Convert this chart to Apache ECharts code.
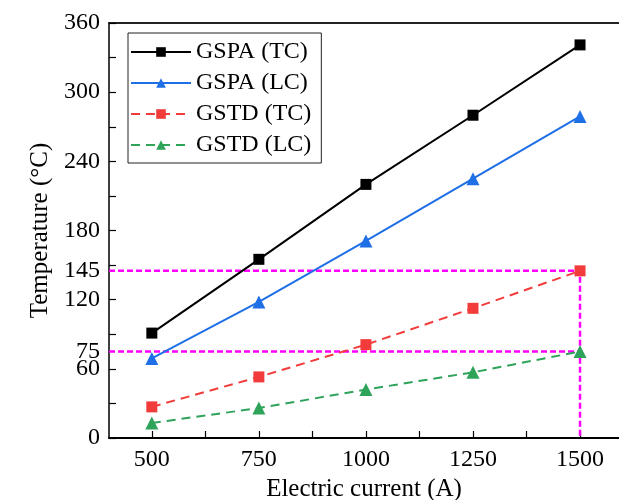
<!DOCTYPE html>
<html>
<head>
<meta charset="utf-8">
<script src="https://cdn.jsdelivr.net/npm/echarts@6/dist/echarts.min.js"></script>
<style>
html, body { margin: 0; padding: 0; background: #fff; }
#main { width: 619px; height: 500px; }
</style>
</head>
<body>
<div id="main"></div>
<script>
var currents = [500, 750, 1000, 1250, 1500];
var gspa_tc = [91, 155, 220, 280, 341];
var gspa_lc = [69, 118, 171, 225, 279];
var gstd_tc = [27, 53, 81, 112.5, 145];
var gstd_lc = [13, 26, 42, 57, 75];

var x_labels = [500, 750, 1000, 1250, 1500];
var x_ticks = [500, 625, 750, 875, 1000, 1125, 1250, 1375, 1500];
var y_labels = [0, 60, 75, 120, 145, 180, 240, 300, 360];
var y_ticks = [0, 30, 60, 90, 120, 150, 180, 210, 240, 270, 300, 330, 360];

// magenta guide lines
var guide_145 = [[400, 145], [1500, 145], [1500, 0]];
var guide_75 = [[400, 75], [1500, 75]];

function pairs(ys) {
    return currents.map(function (x, i) { return [x, ys[i]]; });
}

var chart = echarts.init(document.getElementById('main'));
var font = 'Liberation Serif';

chart.setOption({
    backgroundColor: '#fff',
    animation: false,
    textStyle: { fontFamily: font },
    grid: {
        left: 109,
        top: 23,
        right: 0,
        bottom: 62,
        outerBoundsMode: 'none',
        containLabel: false
    },
    legend: {
        orient: 'vertical',
        left: 128,
        top: 33,
        padding: [7, 10, 6, 2],
        itemGap: 7,
        itemWidth: 60,
        itemHeight: 12,
        borderColor: '#222',
        borderWidth: 1,
        borderRadius: 0,
        textStyle: { fontFamily: font, fontSize: 24, color: '#000' },
        data: ['GSPA (TC)', 'GSPA (LC)', 'GSTD (TC)', 'GSTD (LC)']
    },
    xAxis: [
        {
            type: 'value',
            min: 400,
            max: 1591,
            name: 'Electric current (A)',
            nameLocation: 'middle',
            nameGap: 38,
            nameTextStyle: { fontFamily: font, fontSize: 25, color: '#000' },
            axisLine: { show: true, lineStyle: { color: '#000', width: 2 } },
            axisTick: { inside: true, length: 7, customValues: x_ticks, lineStyle: { color: '#000', width: 1.2 } },
            axisLabel: {
                customValues: x_labels,
                fontFamily: font,
                fontSize: 24,
                color: '#000',
                margin: 10,
                formatter: function (v) { return String(v); }
            },
            splitLine: { show: false }
        },
        {
            type: 'value',
            position: 'top',
            min: 400,
            max: 1591,
            axisLine: { show: true, lineStyle: { color: '#222', width: 2 } },
            axisTick: { show: false },
            axisLabel: { show: false },
            splitLine: { show: false }
        }
    ],
    yAxis: {
        type: 'value',
        min: 0,
        max: 360,
        interval: 30,
        name: 'Temperature (°C)',
        nameLocation: 'middle',
        nameGap: 48,
        nameTextStyle: { fontFamily: font, fontSize: 25, color: '#000' },
        axisLine: { show: true, lineStyle: { color: '#000', width: 1.5 } },
        axisTick: { inside: true, length: 7, customValues: y_ticks, lineStyle: { color: '#000', width: 1.2 } },
        axisLabel: { customValues: y_labels, fontFamily: font, fontSize: 24, color: '#000', margin: 9 },
        splitLine: { show: false }
    },
    series: [
        {
            name: 'guide145',
            type: 'line',
            data: guide_145,
            symbol: 'none',
            silent: true,
            lineStyle: { color: '#ff00ff', width: 2.5, type: [6, 3] },
            z: 1
        },
        {
            name: 'guide75',
            type: 'line',
            data: guide_75,
            symbol: 'none',
            silent: true,
            lineStyle: { color: '#ff00ff', width: 2.5, type: [6, 3] },
            z: 1
        },
        {
            name: 'GSPA (TC)',
            type: 'line',
            data: pairs(gspa_tc),
            symbol: 'rect',
            symbolSize: 11,
            itemStyle: { color: '#000' },
            lineStyle: { color: '#000', width: 2 },
            z: 3
        },
        {
            name: 'GSPA (LC)',
            type: 'line',
            data: pairs(gspa_lc),
            symbol: 'triangle',
            symbolSize: 13,
            itemStyle: { color: '#1f6fe6' },
            lineStyle: { color: '#1f6fe6', width: 2 },
            z: 3
        },
        {
            name: 'GSTD (TC)',
            type: 'line',
            data: pairs(gstd_tc),
            symbol: 'rect',
            symbolSize: 11,
            itemStyle: { color: '#f23c3c' },
            lineStyle: { color: '#f23c3c', width: 2, type: [9, 6] },
            z: 3
        },
        {
            name: 'GSTD (LC)',
            type: 'line',
            data: pairs(gstd_lc),
            symbol: 'triangle',
            symbolSize: 13,
            itemStyle: { color: '#2ea35a' },
            lineStyle: { color: '#2ea35a', width: 2, type: [9, 6] },
            z: 3
        }
    ]
});
</script>
</body>
</html>
